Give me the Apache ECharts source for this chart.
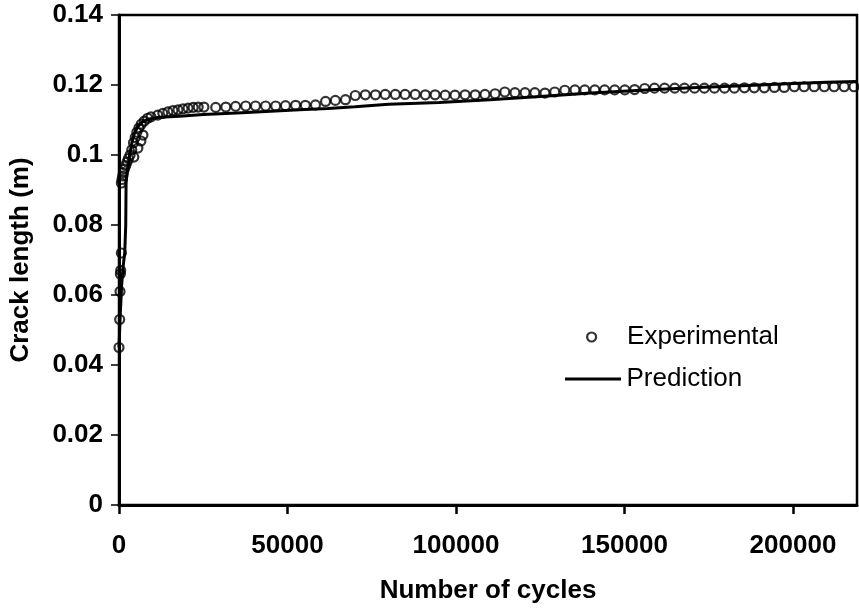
<!DOCTYPE html>
<html>
<head>
<meta charset="utf-8">
<script src="https://cdn.jsdelivr.net/npm/echarts@6/dist/echarts.min.js"></script>
<style>
  html, body { margin: 0; padding: 0; background: #fff; }
  #chart { width: 859px; height: 609px; }
</style>
</head>
<body>
<div id="chart"></div>
<script>
// Crack growth: measured crack length vs load cycles, with the model curve.
const xTicks = [0, 50000, 100000, 150000, 200000];
const yTicks = [0, 0.02, 0.04, 0.06, 0.08, 0.1, 0.12, 0.14];

// Experimental readings: cycles and crack length (m)
const expCycles = [
  0, 200, 300, 400, 500, 700, 700, 900, 1100, 1300, 1600, 2000, 2400, 2800,
  3300, 3800, 4300, 4800, 5300, 5900, 6600, 7500, 8500, 9500, 11500, 13000,
  14500, 16000, 17500, 19000, 20500, 22000, 23500, 25200,
  4400, 5600, 6500, 7100,
  28700, 31700, 34600, 37600, 40500, 43500, 46500, 49400, 52400, 55300,
  58300, 61300, 64200, 67200, 70100, 73100, 76100, 79000, 82000, 84900,
  87900, 90900, 93800, 96800, 99700, 102700, 105700, 108600, 111600, 114500,
  117500, 120500, 123400, 126400, 129300, 132300, 135300, 138200, 141200, 144100,
  147100, 150100, 153000, 156000, 158900, 161900, 164900, 167800, 170800, 173700,
  176700, 179700, 182600, 185600, 188500, 191500, 194500, 197400, 200400, 203300,
  206300, 209300, 212200, 215200, 218100
];
const expLength = [
  0.045, 0.053, 0.061, 0.066, 0.067, 0.072, 0.092, 0.093, 0.094, 0.095, 0.096, 0.097, 0.098, 0.099,
  0.100, 0.1015, 0.1035, 0.105, 0.1065, 0.1077, 0.1088, 0.1097, 0.1105, 0.1109, 0.1114, 0.1119,
  0.1123, 0.1127, 0.1129, 0.1132, 0.1134, 0.1136, 0.1137, 0.1137,
  0.0994, 0.102, 0.104, 0.1057,
  0.1136, 0.1137, 0.1139, 0.1140, 0.1140, 0.1140, 0.1140, 0.1141, 0.1142, 0.1142,
  0.1143, 0.1153, 0.1156, 0.1158, 0.1170, 0.1172, 0.1172, 0.1173, 0.1173, 0.1173,
  0.1173, 0.1172, 0.1172, 0.1171, 0.1171, 0.1172, 0.1172, 0.1173, 0.1175, 0.1180,
  0.1178, 0.1178, 0.1178, 0.1177, 0.1180, 0.1185, 0.1186, 0.1186, 0.1186, 0.1186,
  0.1186, 0.1186, 0.1187, 0.1190, 0.1191, 0.1191, 0.1191, 0.1191, 0.1191, 0.1191,
  0.1191, 0.1191, 0.1191, 0.1192, 0.1192, 0.1192, 0.1193, 0.1193, 0.1195, 0.1195,
  0.1195, 0.1195, 0.1195, 0.1195, 0.1195
];

// Model prediction curve
const predCycles = [
  0, 400, 800, 1200, 1700, 2000, 2100, 2400, 3000, 3700, 4500, 5500, 7000, 9000,
  12000, 18000, 25000, 35000, 45000, 55000, 62000, 70000, 80000, 95000, 110000,
  125000, 140000, 155000, 170000, 185000, 200000, 210000, 219000
];
const predLength = [
  0.045, 0.055, 0.063, 0.068, 0.072, 0.080, 0.092, 0.095, 0.099, 0.103, 0.106, 0.108, 0.1095, 0.1103,
  0.1108, 0.1111, 0.1116, 0.1120, 0.1125, 0.1130, 0.1133, 0.1138, 0.1145, 0.1150, 0.1158,
  0.1167, 0.1177, 0.1185, 0.1192, 0.1198, 0.1204, 0.1208, 0.1210
];

const expData = expCycles.map((c, i) => [c, expLength[i]]);
const predData = predCycles.map((c, i) => [c, predLength[i]]);

const FONT = '"Liberation Sans", Arial, sans-serif';

const chart = echarts.init(document.getElementById('chart'), null, { renderer: 'canvas' });
chart.setOption({
  animation: false,
  backgroundColor: '#fff',
  grid: {
    left: 118, right: 2, top: 15, bottom: 104,
    show: true, borderColor: '#000', borderWidth: 2.5, backgroundColor: 'transparent'
  },
  legend: [
    {
      data: [{ name: 'Experimental', icon: 'circle' }],
      orient: 'vertical',
      left: 581, top: 319,
      itemWidth: 9, itemHeight: 9,
      itemStyle: { color: '#fff', borderColor: '#000', borderWidth: 2.2 },
      textStyle: { fontFamily: FONT, fontSize: 26, color: '#000', padding: [0, 0, 0, 26] }
    },
    {
      data: [{ name: 'Prediction', icon: 'path://M0,0H56V3H0Z' }],
      orient: 'vertical',
      left: 560, top: 361,
      itemWidth: 57, itemHeight: 3,
      itemStyle: { color: '#000', borderWidth: 0 },
      textStyle: { fontFamily: FONT, fontSize: 26, color: '#000' }
    }
  ],
  xAxis: {
    type: 'value',
    min: 0, max: 219000, interval: 50000,
    name: 'Number of cycles',
    nameLocation: 'middle', nameGap: 73,
    nameTextStyle: { fontFamily: FONT, fontSize: 26, fontWeight: 'bold', color: '#000' },
    axisLine: { onZero: false, lineStyle: { color: '#000', width: 3 } },
    axisTick: { length: 9, lineStyle: { color: '#000', width: 2.5 }, customValues: xTicks },
    axisLabel: {
      customValues: xTicks, margin: 28,
      fontFamily: FONT, fontSize: 26, fontWeight: 'bold', color: '#000',
      formatter: v => String(v)
    },
    splitLine: { show: false }
  },
  yAxis: {
    type: 'value',
    min: 0, max: 0.14, interval: 0.02,
    name: 'Crack length (m)',
    nameLocation: 'middle', nameGap: 85,
    nameTextStyle: { fontFamily: FONT, fontSize: 26, fontWeight: 'bold', color: '#000' },
    axisLine: { onZero: false, lineStyle: { color: '#000', width: 3 } },
    axisTick: { length: 8, lineStyle: { color: '#000', width: 1.5 }, customValues: yTicks },
    axisLabel: {
      customValues: yTicks, margin: 16,
      fontFamily: FONT, fontSize: 26, fontWeight: 'bold', color: '#000',
      formatter: v => String(+v.toFixed(2))
    },
    splitLine: { show: false }
  },
  series: [
    {
      name: 'Experimental',
      type: 'scatter',
      data: expData,
      symbol: 'circle',
      symbolSize: 9,
      itemStyle: { color: 'transparent', borderColor: '#000', borderWidth: 2.2 },
      z: 3
    },
    {
      name: 'Prediction',
      type: 'line',
      data: predData,
      symbol: 'none',
      smooth: false,
      itemStyle: { color: '#000' },
      lineStyle: { color: '#000', width: 3 },
      z: 2
    }
  ]
});
</script>
</body>
</html>
